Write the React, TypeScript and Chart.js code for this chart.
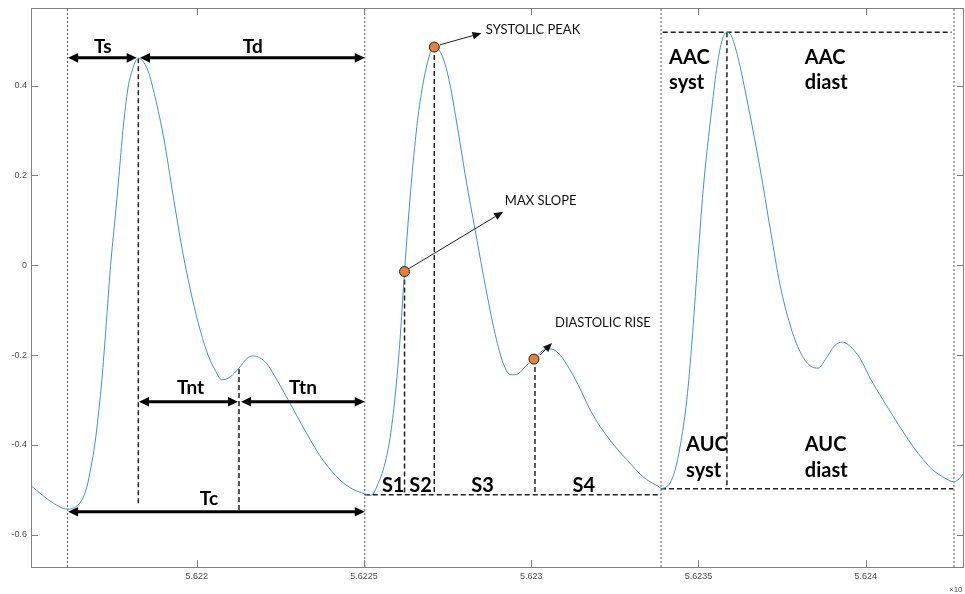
import React, { useEffect, useRef } from 'react';
import { Chart, registerables } from 'chart.js';
Chart.register(...registerables);

// ---- waveform (x in units of 1e-4 * axis label) ----
const curveX = [
  56215.04, 56215.69, 56216.13, 56216.35, 56216.56, 56216.71, 56216.83, 56216.95, 56217.07, 56217.16,
  56217.22, 56217.32, 56217.42, 56217.55, 56217.67, 56217.79, 56217.94, 56218.08, 56218.15, 56218.25,
  56218.36, 56218.54, 56218.75, 56219.02, 56219.29, 56219.56, 56219.80, 56220.04, 56220.30, 56220.54,
  56220.75, 56220.99, 56221.26, 56221.52, 56221.70, 56221.88, 56222.08, 56222.36, 56222.68, 56223.28,
  56223.77, 56224.28, 56224.64, 56225.02,
  56225.17, 56225.29, 56225.42, 56225.54, 56225.66, 56225.78, 56225.93, 56226.07, 56226.21,
  56226.42, 56226.60, 56226.75, 56226.90, 56227.02, 56227.10, 56227.21, 56227.36, 56227.54, 56227.75,
  56228.05, 56228.32, 56228.65, 56228.96, 56229.18, 56229.39, 56229.60, 56229.84, 56230.08, 56230.32,
  56230.56, 56230.80, 56231.07, 56231.40, 56231.76, 56232.05, 56232.35, 56232.59, 56232.86, 56233.10,
  56233.34, 56233.55, 56233.79, 56233.90,
  56234.03, 56234.15, 56234.30, 56234.45, 56234.65, 56234.81, 56234.96, 56235.14, 56235.40, 56235.56,
  56235.71, 56235.85, 56235.98, 56236.16, 56236.50, 56236.85, 56237.15, 56237.44, 56237.74, 56238.04,
  56238.34, 56238.58, 56238.82, 56239.06, 56239.30, 56239.53, 56239.83, 56240.13, 56240.52, 56240.82,
  56241.12, 56241.42, 56241.72, 56242.01, 56242.37, 56242.62, 56242.76, 56242.97,
];
const curveY = [
  -0.491, -0.529, -0.543, -0.539, -0.523, -0.494, -0.451, -0.398, -0.322, -0.255,
  -0.200, -0.100, 0.000, 0.101, 0.199, 0.301, 0.395, 0.437, 0.452, 0.461,
  0.457, 0.433, 0.375, 0.279, 0.155, 0.036, -0.053, -0.128, -0.193, -0.233,
  -0.255, -0.249, -0.229, -0.206, -0.202, -0.206, -0.218, -0.251, -0.293, -0.374,
  -0.434, -0.478, -0.498, -0.509,
  -0.513, -0.507, -0.486, -0.463, -0.430, -0.383, -0.291, -0.171, -0.014,
  0.190, 0.323, 0.399, 0.453, 0.481, 0.486, 0.482, 0.462, 0.413, 0.327,
  0.190, 0.079, -0.055, -0.166, -0.222, -0.244, -0.242, -0.224, -0.209, -0.191,
  -0.186, -0.195, -0.222, -0.266, -0.322, -0.358, -0.389, -0.411, -0.433, -0.453,
  -0.471, -0.482, -0.492, -0.497,
  -0.494, -0.485, -0.456, -0.404, -0.300, -0.166, -0.010, 0.168, 0.350, 0.446,
  0.502, 0.519, 0.511, 0.469, 0.350, 0.212, 0.079, -0.044, -0.133, -0.193,
  -0.224, -0.229, -0.207, -0.180, -0.171, -0.180, -0.207, -0.251, -0.300, -0.336,
  -0.371, -0.404, -0.433, -0.456, -0.474, -0.482, -0.478, -0.460,
];

// ---- feature markers (systolic peak, max slope, diastolic rise) ----
const markerX = [56227.10, 56226.21, 56230.08];
const markerY = [0.486, -0.014, -0.209];

// ---- axes ----
const xMin = 56215.04;
const xMax = 56242.94;
const yMin = -0.672;
const yMax = 0.573;
const xTickValues = [56220, 56225, 56230, 56235, 56240];
const xTickLabels = ['5.622', '5.6225', '5.623', '5.6235', '5.624'];
const yTickValues = [-0.6, -0.4, -0.2, 0, 0.2, 0.4];
const yTickLabels = ['-0.6', '-0.4', '-0.2', '0', '0.2', '0.4'];

// ---- reference lines (data units) ----
const dottedX = [56216.13, 56225.02, 56233.88, 56242.64];
const segX1 = [56218.25, 56221.26, 56226.21, 56227.10, 56230.11, 56235.85, 56225.02, 56233.93, 56233.88];
const segY1 = [0.461, -0.231, -0.014, 0.486, -0.209, 0.519, -0.511, 0.519, -0.498];
const segX2 = [56218.25, 56221.26, 56226.21, 56227.10, 56230.11, 56235.85, 56233.88, 56242.57, 56242.62];
const segY2 = [-0.536, -0.545, -0.511, -0.511, -0.511, -0.498, -0.511, 0.519, -0.498];

// ---- interval arrows (Ts, Td, Tnt, Ttn, Tc) ----
const arrowY = [0.462, 0.462, -0.304, -0.304, -0.549];
const arrowX1 = [56216.15, 56218.30, 56218.27, 56221.32, 56216.15];
const arrowX2 = [56218.20, 56225.02, 56221.23, 56225.02, 56225.02];

// ---- bold labels ----
const boldText = ['Ts', 'Td', 'Tnt', 'Ttn', 'Tc', 'S1', 'S2', 'S3', 'S4'];
const boldX = [56217.19, 56221.67, 56219.81, 56223.17, 56220.36, 56225.87, 56226.69, 56228.54, 56231.57];
const boldY = [0.472, 0.472, -0.287, -0.287, -0.534, -0.504, -0.504, -0.504, -0.504];
const areaText = ['AAC', 'syst', 'AAC', 'diast', 'AUC', 'syst', 'AUC', 'diast'];
const areaX = [56234.12, 56234.12, 56238.18, 56238.18, 56234.63, 56234.63, 56238.18, 56238.18];
const areaY = [0.449, 0.392, 0.449, 0.392, -0.413, -0.472, -0.413, -0.472];

// ---- callouts ----
const calloutText = ['SYSTOLIC PEAK', 'MAX SLOPE', 'DIASTOLIC RISE'];
const calloutX = [56228.64, 56229.21, 56230.71];
const calloutY = [0.514, 0.134, -0.137];
const pointerX1 = [56227.27, 56226.35, 56230.26];
const pointerY1 = [0.491, -0.007, -0.200];
const pointerX2 = [56228.51, 56229.16, 56230.62];
const pointerY2 = [0.517, 0.119, -0.173];

function makeDatasets() {
  const ds: any[] = [];
  ds.push({
    data: markerX.map((x, i) => ({ x, y: markerY[i] })),
    showLine: false,
    pointRadius: 5,
    pointBackgroundColor: '#ED7D31',
    pointBorderColor: '#222',
    pointBorderWidth: 1,
    order: 0,
  });
  ds.push({
    data: curveX.map((x, i) => ({ x, y: curveY[i] })),
    showLine: true,
    borderColor: '#3f93d4',
    borderWidth: 1,
    pointRadius: 0,
    cubicInterpolationMode: 'monotone',
    order: 1,
  });
  segX1.forEach((x1, i) => {
    ds.push({
      data: [{ x: x1, y: segY1[i] }, { x: segX2[i], y: segY2[i] }],
      showLine: true,
      borderColor: '#222',
      borderWidth: 1.5,
      borderDash: [5, 3],
      pointRadius: 0,
      order: 2,
    });
  });
  dottedX.forEach((x) => {
    ds.push({
      data: [{ x, y: yMin }, { x, y: yMax }],
      showLine: true,
      borderColor: '#555',
      borderWidth: 1,
      borderDash: [2, 2],
      pointRadius: 0,
      order: 3,
    });
  });
  return ds;
}

function doubleArrow(ctx: CanvasRenderingContext2D, xa: number, xb: number, yy: number) {
  const hl = 10, hw = 4.8;
  ctx.strokeStyle = '#000';
  ctx.fillStyle = '#000';
  ctx.lineWidth = 3;
  ctx.beginPath();
  ctx.moveTo(xa + hl - 1, yy);
  ctx.lineTo(xb - hl + 1, yy);
  ctx.stroke();
  ctx.beginPath();
  ctx.moveTo(xa, yy);
  ctx.lineTo(xa + hl, yy - hw);
  ctx.lineTo(xa + hl, yy + hw);
  ctx.closePath();
  ctx.fill();
  ctx.beginPath();
  ctx.moveTo(xb, yy);
  ctx.lineTo(xb - hl, yy - hw);
  ctx.lineTo(xb - hl, yy + hw);
  ctx.closePath();
  ctx.fill();
}

function thinArrow(ctx: CanvasRenderingContext2D, x1: number, y1: number, x2: number, y2: number) {
  const a = Math.atan2(y2 - y1, x2 - x1);
  const hl = 9, hw = 3.8;
  const c = Math.cos(a), s = Math.sin(a);
  ctx.strokeStyle = '#222';
  ctx.fillStyle = '#111';
  ctx.lineWidth = 1;
  ctx.beginPath();
  ctx.moveTo(x1, y1);
  ctx.lineTo(x2 - c * hl, y2 - s * hl);
  ctx.stroke();
  ctx.beginPath();
  ctx.moveTo(x2, y2);
  ctx.lineTo(x2 - c * hl - s * hw, y2 - s * hl + c * hw);
  ctx.lineTo(x2 - c * hl + s * hw, y2 - s * hl - c * hw);
  ctx.closePath();
  ctx.fill();
}

const annotPlugin = {
  id: 'annot',
  afterDatasetsDraw(chart: any) {
    const { ctx, scales } = chart;
    const sx = scales.x, sy = scales.y;
    ctx.save();
    arrowY.forEach((yv, i) => {
      doubleArrow(ctx, sx.getPixelForValue(arrowX1[i]), sx.getPixelForValue(arrowX2[i]), sy.getPixelForValue(yv));
    });
    pointerX1.forEach((xv, i) => {
      thinArrow(ctx, sx.getPixelForValue(xv), sy.getPixelForValue(pointerY1[i]),
        sx.getPixelForValue(pointerX2[i]), sy.getPixelForValue(pointerY2[i]));
    });
    ctx.fillStyle = '#000';
    ctx.textBaseline = 'alphabetic';
    ctx.textAlign = 'center';
    boldText.forEach((t, i) => {
      ctx.font = t.startsWith('S') ? 'bold 20px Lato' : 'bold 19px Lato';
      ctx.fillText(t, sx.getPixelForValue(boldX[i]), sy.getPixelForValue(boldY[i]));
    });
    ctx.textAlign = 'left';
    ctx.font = 'bold 20px Lato';
    areaText.forEach((t, i) => {
      ctx.fillText(t, sx.getPixelForValue(areaX[i]), sy.getPixelForValue(areaY[i]));
    });
    ctx.font = '13px Lato';
    ctx.fillStyle = '#111';
    calloutText.forEach((t, i) => {
      ctx.fillText(t, sx.getPixelForValue(calloutX[i]), sy.getPixelForValue(calloutY[i]));
    });
    ctx.restore();
  },
  afterDraw(chart: any) {
    const { ctx, chartArea: a, scales } = chart;
    const sx = scales.x, sy = scales.y;
    ctx.save();
    ctx.strokeStyle = '#808080';
    ctx.lineWidth = 1;
    ctx.strokeRect(Math.round(a.left) + 0.5, Math.round(a.top) + 0.5, Math.round(a.right - a.left) - 1, Math.round(a.bottom - a.top));
    ctx.beginPath();
    const tl = 7;
    xTickValues.forEach((v) => {
      const px = Math.round(sx.getPixelForValue(v)) + 0.5;
      ctx.moveTo(px, a.bottom);
      ctx.lineTo(px, a.bottom - tl);
      ctx.moveTo(px, a.top);
      ctx.lineTo(px, a.top + tl);
    });
    yTickValues.forEach((v) => {
      const py = Math.round(sy.getPixelForValue(v)) + 0.5;
      ctx.moveTo(a.left, py);
      ctx.lineTo(a.left + tl, py);
      ctx.moveTo(a.right, py);
      ctx.lineTo(a.right - tl, py);
    });
    ctx.stroke();
    ctx.fillStyle = '#4d4d4d';
    ctx.font = '8px "Liberation Sans"';
    ctx.textAlign = 'left';
    ctx.textBaseline = 'alphabetic';
    ctx.fillText('\u00d710', 949, 592);
    ctx.restore();
  },
};

export default function App() {
  const ref = useRef<HTMLCanvasElement>(null);
  useEffect(() => {
    document.body.style.margin = '0';
    const chart = new Chart(ref.current as HTMLCanvasElement, {
      type: 'scatter',
      data: { datasets: makeDatasets() },
      options: {
        animation: false,
        responsive: false,
        devicePixelRatio: 1,
        events: [],
        layout: { autoPadding: false, padding: { top: 8, right: 1, left: 0, bottom: 0 } },
        plugins: { legend: { display: false }, tooltip: { enabled: false } },
        scales: {
          x: {
            type: 'linear',
            min: xMin,
            max: xMax,
            afterBuildTicks: (s: any) => { s.ticks = xTickValues.map((v) => ({ value: v })); },
            afterFit: (s: any) => {
              s.height = 27;
              s.paddingLeft = 0; s.paddingRight = 0; s.paddingTop = 0; s.paddingBottom = 0;
            },
            grid: { display: false, drawTicks: false },
            border: { display: false },
            ticks: {
              autoSkip: false,
              maxRotation: 0,
              padding: 4,
              color: '#4d4d4d',
              font: { family: 'Liberation Sans', size: 9 },
              callback: (v: any) => { const i = xTickValues.indexOf(v); return i >= 0 ? xTickLabels[i] : ''; },
            },
          },
          y: {
            type: 'linear',
            min: yMin,
            max: yMax,
            afterBuildTicks: (s: any) => { s.ticks = yTickValues.map((v) => ({ value: v })); },
            afterFit: (s: any) => {
              s.width = 31;
              s.paddingLeft = 0; s.paddingRight = 0; s.paddingTop = 0; s.paddingBottom = 0;
            },
            grid: { display: false, drawTicks: false },
            border: { display: false },
            ticks: {
              autoSkip: false,
              padding: 4,
              color: '#4d4d4d',
              font: { family: 'Liberation Sans', size: 9 },
              callback: (v: any) => { const i = yTickValues.indexOf(v); return i >= 0 ? yTickLabels[i] : ''; },
            },
          },
        },
      },
      plugins: [annotPlugin],
    } as any);
    return () => chart.destroy();
  }, []);
  return (
    <div style={{ position: 'absolute', left: 0, top: 0, width: 965, height: 594, background: '#fff' }}>
      <canvas ref={ref} width={965} height={594} style={{ display: 'block' }} />
    </div>
  );
}
